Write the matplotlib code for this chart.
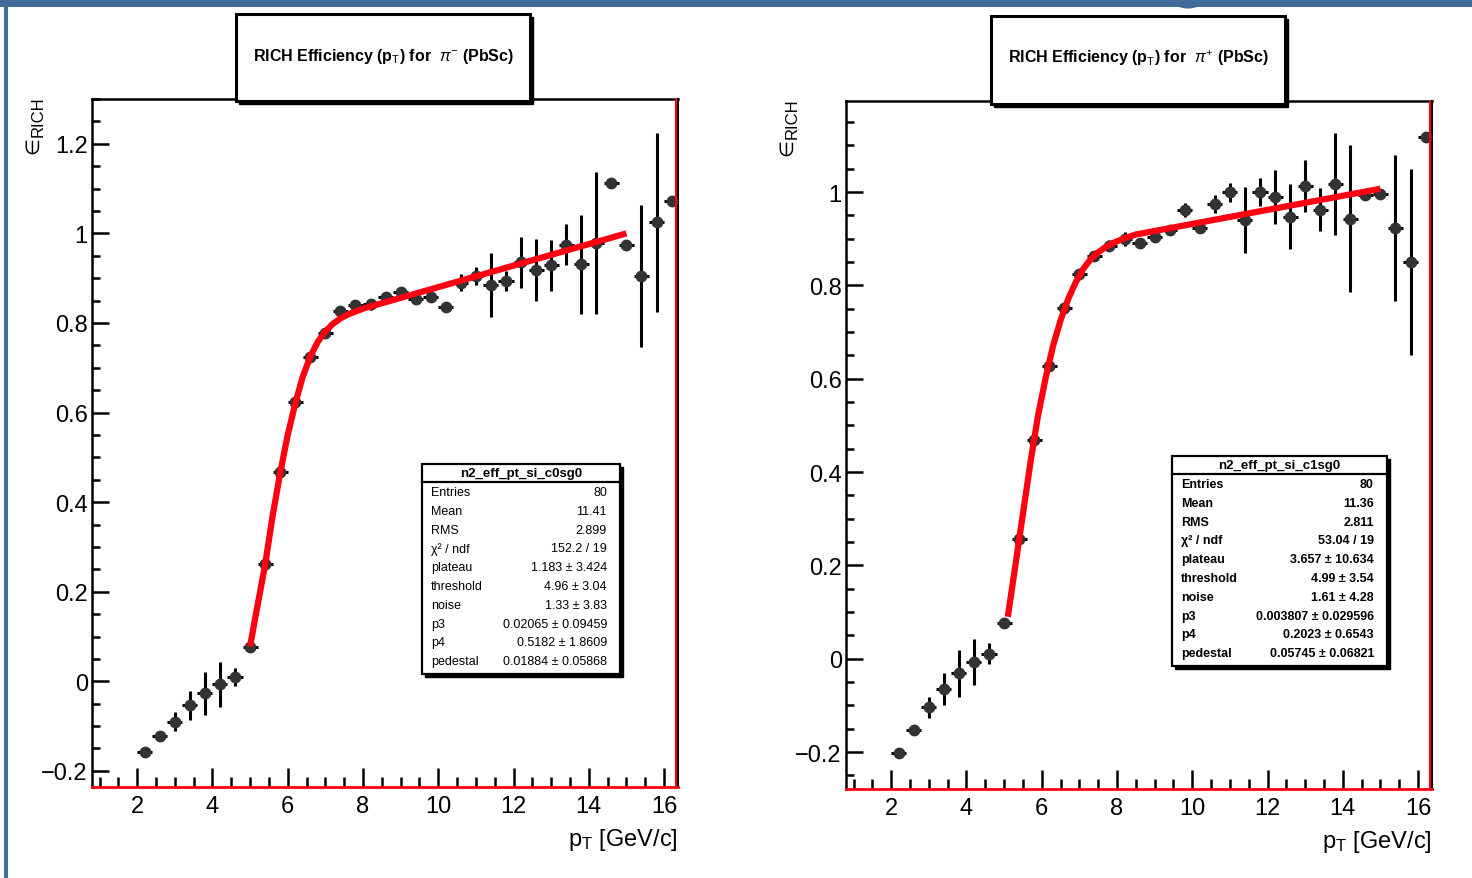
import matplotlib
matplotlib.use("Agg")
import matplotlib.pyplot as plt
from matplotlib.patches import Rectangle, Circle
from matplotlib.lines import Line2D
from matplotlib.ticker import MultipleLocator

plt.rcParams['font.family'] = ['Liberation Sans', 'DejaVu Sans']
plt.rcParams['mathtext.fontset'] = 'custom'
plt.rcParams['mathtext.rm'] = 'Liberation Sans'
plt.rcParams['mathtext.it'] = 'Liberation Sans:italic'
plt.rcParams['mathtext.bf'] = 'Liberation Sans:bold'

# ---------------- data ----------------
pt_bins = [2.2, 2.6, 3.0, 3.4, 3.8, 4.2, 4.6, 5.0, 5.4, 5.8, 6.2, 6.6, 7.0, 7.4, 7.8,
           8.2, 8.6, 9.0, 9.4, 9.8, 10.2, 10.6, 11.0, 11.4, 11.8, 12.2, 12.6, 13.0,
           13.4, 13.8, 14.2, 14.6, 15.0, 15.4, 15.8, 16.2]
pt_halfwidth = 0.2

eff_pim = [-0.157, -0.122, -0.090, -0.054, -0.027, -0.007, 0.010, 0.077, 0.261, 0.467,
           0.623, 0.725, 0.777, 0.826, 0.839, 0.842, 0.857, 0.870, 0.853, 0.858,
           0.836, 0.890, 0.905, 0.885, 0.894, 0.935, 0.918, 0.929, 0.975, 0.931,
           0.978, 1.112, 0.974, 0.905, 1.025, 1.072]
err_pim = [0.005, 0.010, 0.022, 0.033, 0.048, 0.050, 0.020, 0.005, 0.005, 0.005,
           0.005, 0.005, 0.005, 0.008, 0.010, 0.012, 0.008, 0.008, 0.008, 0.010,
           0.008, 0.019, 0.020, 0.071, 0.022, 0.058, 0.070, 0.057, 0.046, 0.110,
           0.158, 0.005, 0.005, 0.158, 0.200, 0.005]

eff_pip = [-0.2015, -0.153, -0.104, -0.064, -0.031, -0.007, 0.011, 0.077, 0.257, 0.469,
           0.628, 0.752, 0.825, 0.862, 0.885, 0.900, 0.890, 0.904, 0.918, 0.961,
           0.923, 0.975, 0.999, 0.940, 1.000, 0.990, 0.947, 1.013, 0.962, 1.017,
           0.943, 0.993, 0.995, 0.923, 0.850, 1.118]
err_pip = [0.005, 0.008, 0.022, 0.034, 0.050, 0.050, 0.022, 0.005, 0.005, 0.005,
           0.005, 0.005, 0.005, 0.008, 0.012, 0.015, 0.010, 0.010, 0.008, 0.015,
           0.008, 0.019, 0.021, 0.071, 0.031, 0.058, 0.070, 0.056, 0.046, 0.109,
           0.158, 0.005, 0.005, 0.157, 0.200, 0.005]

# fit curves
fit_pim_x = [5.0, 5.2, 5.4, 5.6, 5.8, 6.0, 6.2, 6.4, 6.6, 6.8, 7.0, 7.2, 7.4, 7.6, 8.0, 9.0, 15.0]
fit_pim_y = [0.078, 0.17, 0.26, 0.37, 0.465, 0.55, 0.62, 0.68, 0.725, 0.758, 0.781, 0.798,
             0.810, 0.819, 0.832, 0.856, 1.0]
fit_pip_x = [5.1, 5.3, 5.5, 5.7, 5.9, 6.1, 6.3, 6.5, 6.7, 6.9, 7.1, 7.3, 7.5, 7.7, 7.9,
             8.2, 8.5, 15.0]
fit_pip_y = [0.09, 0.20, 0.31, 0.42, 0.52, 0.60, 0.67, 0.725, 0.77, 0.806, 0.835, 0.856,
             0.871, 0.882, 0.891, 0.901, 0.909, 1.007]

titles = [r'RICH Efficiency (p$_{\mathrm{T}}$) for  $\pi^{-}$ (PbSc)',
          r'RICH Efficiency (p$_{\mathrm{T}}$) for  $\pi^{+}$ (PbSc)']
stat_names = ['n2_eff_pt_si_c0sg0', 'n2_eff_pt_si_c1sg0']
stat_labels = ['Entries', 'Mean', 'RMS', '\u03c7\u00b2 / ndf', 'plateau', 'threshold',
               'noise', 'p3', 'p4', 'pedestal']
stat_pim = ['80', '11.41', '2.899', '152.2 / 19', '1.183 \u00b1 3.424', '4.96 \u00b1 3.04',
            '1.33 \u00b1 3.83', '0.02065 \u00b1 0.09459', '0.5182 \u00b1 1.8609',
            '0.01884 \u00b1 0.05868']
stat_pip = ['80', '11.36', '2.811', '53.04 / 19', '3.657 \u00b1 10.634', '4.99 \u00b1 3.54',
            '1.61 \u00b1 4.28', '0.003807 \u00b1 0.029596', '0.2023 \u00b1 0.6543',
            '0.05745 \u00b1 0.06821']

# ---------------- figure ----------------
W, H = 1472, 879
fig = plt.figure(figsize=(W / 100, H / 100), dpi=100)
fig.patch.set_facecolor('white')


def fx(px):
    return px / W


def fy(py):
    return 1 - py / H


# slide decoration
blue = '#3f6c9b'
fig.patches.append(Rectangle((0, fy(8)), 1, 8 / H, transform=fig.transFigure,
                             facecolor=blue, edgecolor='none', zorder=0))
fig.patches.append(Rectangle((fx(4), 0), 4 / W, 1, transform=fig.transFigure,
                             facecolor=blue, edgecolor='none', zorder=0))
fig.patches.append(Circle((fx(1188), fy(0)), 16 / W, transform=fig.transFigure,
                          facecolor=blue, edgecolor='none', zorder=0))

panels = [
    dict(ax_px=(92, 100, 678, 788), ylim=(-0.236, 1.30), eff=eff_pim, err=err_pim,
         fx_=fit_pim_x, fy_=fit_pim_y, title=titles[0], tbox=(236, 15, 530, 102),
         sname=stat_names[0], svals=stat_pim, sbox=(422, 465, 620, 675), bold=False),
    dict(ax_px=(846, 102, 1432, 790), ylim=(-0.279, 1.195), eff=eff_pip, err=err_pip,
         fx_=fit_pip_x, fy_=fit_pip_y, title=titles[1], tbox=(991, 17, 1285, 105),
         sname=stat_names[1], svals=stat_pip, sbox=(1172, 457, 1387, 667), bold=True),
]

for p in panels:
    x0, y0, x1, y1 = p['ax_px']
    ax = fig.add_axes([fx(x0), fy(y1), (x1 - x0) / W, (y1 - y0) / H])
    ax.set_xlim(0.8, 16.37)
    ax.set_ylim(*p['ylim'])
    ax.errorbar(pt_bins, p['eff'], yerr=p['err'], xerr=pt_halfwidth, fmt='o',
                color='#333333', ecolor='black', elinewidth=2.2, markersize=7.5,
                capsize=0, zorder=3)
    ax.plot(p['fx_'], p['fy_'], color='#ff0010', lw=4.5, solid_capstyle='butt',
            solid_joinstyle='round', zorder=4)

    ax.xaxis.set_minor_locator(MultipleLocator(0.5))
    ax.yaxis.set_minor_locator(MultipleLocator(0.05))
    yt = [t for t in [-0.2, 0, 0.2, 0.4, 0.6, 0.8, 1.0, 1.2] if t <= p['ylim'][1]]
    ax.set_yticks(yt)
    ax.set_yticklabels(['\u22120.2', '0', '0.2', '0.4', '0.6', '0.8', '1', '1.2'][:len(yt)])
    ax.set_xticks([2, 4, 6, 8, 10, 12, 14, 16])
    ax.set_xticklabels(['2', '4', '6', '8', '10', '12', '14', '16'])
    ax.tick_params(axis='x', which='major', direction='in', length=14, width=1.8,
                   labelsize=17, pad=6, top=False)
    ax.tick_params(axis='x', which='minor', direction='in', length=7, width=1.8, top=False)
    ax.tick_params(axis='y', which='major', direction='in', length=12, width=1.8,
                   labelsize=17, pad=3, right=False)
    ax.tick_params(axis='y', which='minor', direction='in', length=6, width=1.8, right=False)
    for s in ['top', 'left']:
        ax.spines[s].set_linewidth(1.8)
        ax.spines[s].set_color('black')
    ax.spines['right'].set_linewidth(1.5)
    ax.spines['right'].set_color('black')
    ax.spines['bottom'].set_linewidth(2.0)
    ax.spines['bottom'].set_color('#ff0010')
    ax.plot([0.997, 0.997], [0, 1], transform=ax.transAxes, color='#ff0010', lw=1.5,
            clip_on=False, zorder=5)

    # axis labels (epsilon with subscript RICH, rotated)
    fig.text(fx(x0 - 58), fy(y0 + 46), '\u2208', rotation=90,
             ha='center', va='center', fontsize=14)
    fig.text(fx(x0 - 54), fy(y0 + 17), 'RICH', rotation=90,
             ha='center', va='center', fontsize=12)
    fig.text(fx(x1), fy(y1 + 52), r'p$_{\mathrm{T}}$ [GeV/c]', ha='right', va='center',
             fontsize=17)

    # title box
    tx0, ty0, tx1, ty1 = p['tbox']
    fig.patches.append(Rectangle((fx(tx0 + 3), fy(ty1 + 3)), (tx1 - tx0) / W, (ty1 - ty0) / H,
                                 transform=fig.transFigure, facecolor='black',
                                 edgecolor='black', lw=1, zorder=6))
    fig.patches.append(Rectangle((fx(tx0), fy(ty1)), (tx1 - tx0) / W, (ty1 - ty0) / H,
                                 transform=fig.transFigure, facecolor='white',
                                 edgecolor='black', lw=2.2, zorder=7))
    fig.text(fx((tx0 + tx1) / 2), fy(ty0 + 41), p['title'], ha='center', va='center',
             fontsize=11.5, fontweight='bold', zorder=8)

    # stats box
    sx0, sy0, sx1, sy1 = p['sbox']
    fig.patches.append(Rectangle((fx(sx0 + 3), fy(sy1 + 3)), (sx1 - sx0) / W, (sy1 - sy0) / H,
                                 transform=fig.transFigure, facecolor='black',
                                 edgecolor='black', lw=1, zorder=6))
    fig.patches.append(Rectangle((fx(sx0), fy(sy1)), (sx1 - sx0) / W, (sy1 - sy0) / H,
                                 transform=fig.transFigure, facecolor='white',
                                 edgecolor='black', lw=1.6, zorder=7))
    fig.lines.append(Line2D([fx(sx0), fx(sx1)], [fy(sy0 + 18), fy(sy0 + 18)],
                            transform=fig.transFigure, color='black', lw=1.6, zorder=8))
    fw = 'bold' if p['bold'] else 'normal'
    fig.text(fx((sx0 + sx1) / 2), fy(sy0 + 9), p['sname'], ha='center', va='center',
             fontsize=9.5, fontweight='bold', zorder=9)
    rowh = (sy1 - sy0 - 22) / len(stat_labels)
    for i, (lab, val) in enumerate(zip(stat_labels, p['svals'])):
        yy = fy(sy0 + 28 + i * rowh)
        fig.text(fx(sx0 + 9), yy, lab, ha='left', va='center', fontsize=9,
                 fontweight=fw, zorder=9)
        fig.text(fx(sx1 - 13), yy, val, ha='right', va='center', fontsize=9,
                 fontweight=fw, zorder=9)

fig.savefig('out.png', dpi=100)
